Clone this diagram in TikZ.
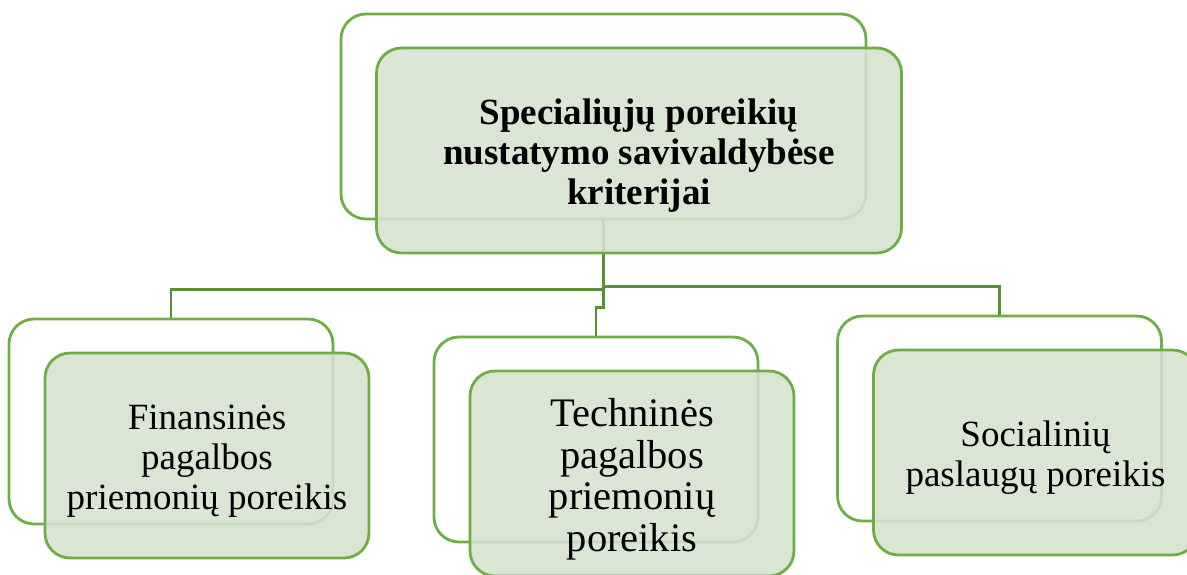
\documentclass[tikz,border=0pt]{standalone}
\usepackage{fontspec}
\setmainfont{Liberation Serif}
\definecolor{boxline}{HTML}{70AD47}
\definecolor{conline}{HTML}{5A8F36}
\definecolor{boxfill}{HTML}{D5E2CE}
% #1: extra empty space above the lines (shifts the text down by half of it)
\newcommand\boxtext[2]{\raisebox{0pt}[\dimexpr\height+#1\relax][\depth]{\begin{tabular}{@{}c@{}}#2\end{tabular}}}
\begin{document}
\begin{tikzpicture}[x=1pt,y=-1pt,
  backbox/.style={draw=boxline,line width=2.8pt,rounded corners=25pt,fill=white,
    minimum width=324pt,minimum height=205pt,inner sep=0pt},
  frontbox/.style={draw=boxline,line width=2.8pt,rounded corners=25pt,fill=boxfill,
    fill opacity=0.88,text opacity=1,minimum width=324pt,minimum height=205pt,
    inner sep=0pt,font=\fontsize{37}{40}\selectfont},
  conn/.style={draw=conline,line width=2.8pt}]
\useasboundingbox (0,0) rectangle (1187,574);
% back boxes
\node[backbox,minimum width=525pt] (topb) at (603.5,116.5) {};
\node[backbox] (leftb) at (171,421.5) {};
\node[backbox] (midb) at (596,439.5) {};
\node[backbox] (rightb) at (999.5,418.5) {};
% connectors
\draw[conn] (topb.south) -- ++(0,69) -| (leftb.north);
\draw[conn] (topb.south) -- ++(0,66) -| (rightb.north);
\draw[conn] (topb.south) -- ++(0,87) -| (midb.north);
% front boxes
\node[frontbox,minimum width=525pt,font=\fontsize{37}{40}\selectfont\bfseries] (topf) at (639,150.5)
  {\boxtext{12pt}{Specialiųjų poreikių\\nustatymo savivaldybėse\\kriterijai}};
\node[frontbox] (leftf) at (207,455.5) {\boxtext{12pt}{Finansinės\\pagalbos\\priemonių poreikis}};
\node[frontbox,font=\fontsize{40.5}{41.5}\selectfont] (midf) at (632,473.5)
  {\boxtext{14pt}{Techninės\\pagalbos\\priemonių\\poreikis}};
\node[frontbox] (rightf) at (1035.5,452.5) {\boxtext{11pt}{Socialinių\\paslaugų poreikis}};
\end{tikzpicture}
\end{document}
